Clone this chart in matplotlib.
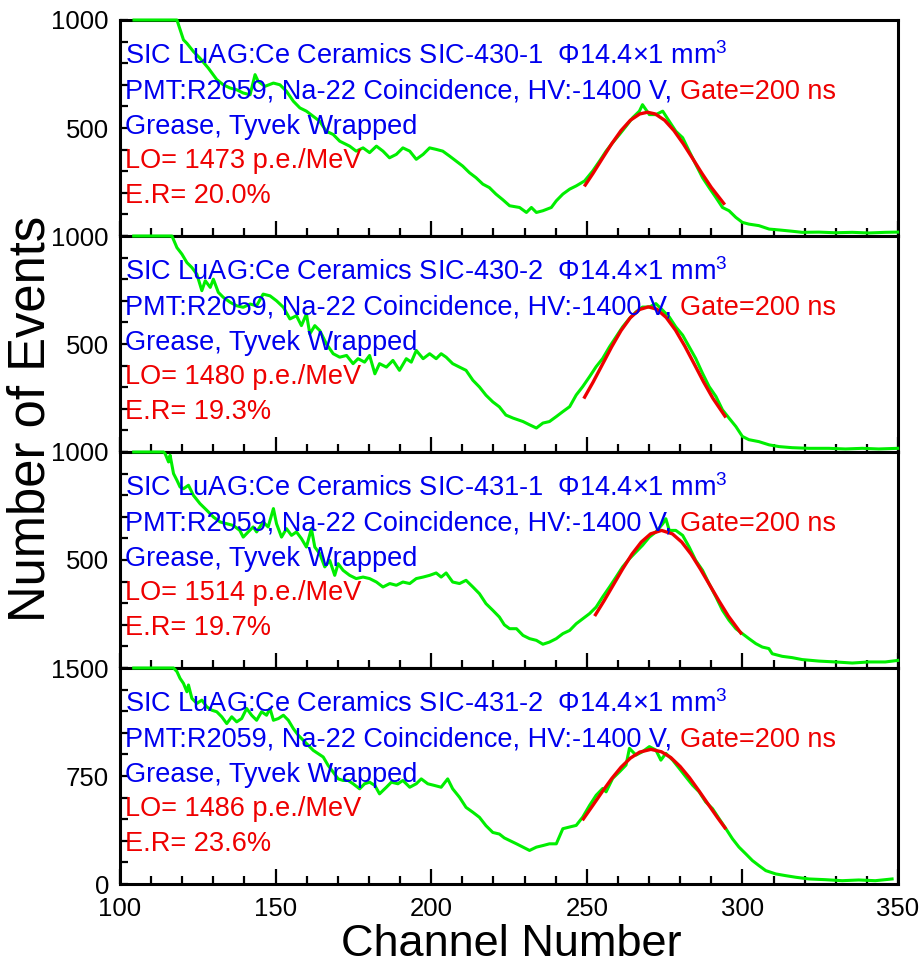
import matplotlib
matplotlib.use("Agg")
import matplotlib.pyplot as plt
from matplotlib.ticker import MultipleLocator, FixedLocator

plt.rcParams['font.family'] = ['Liberation Sans', 'DejaVu Sans']
plt.rcParams['mathtext.default'] = 'regular'

# sample names / results
samples = ["SIC-430-1", "SIC-430-2", "SIC-431-1", "SIC-431-2"]
light_output = [1473, 1480, 1514, 1486]
energy_res = ["20.0%", "19.3%", "19.7%", "23.6%"]
y_max = [1000, 1000, 1000, 1500]

# spectra (channel, events)
ch1 = [104.5, 118.3, 120.4, 121.5, 123.6, 125.7, 128.4, 131.1, 133.2, 135.4, 137.5, 139.6, 141.8, 143.4,
       144.4, 146.6, 149.3, 151.4, 153.5, 155.7, 157.8, 159.9, 162.0, 164.2, 166.3, 168.5, 170.6, 173.8,
       175.9, 178.1, 180.2, 182.4, 184.5, 186.6, 188.8, 190.9, 193.1, 195.2, 197.4, 199.5, 201.6, 203.7,
       205.9, 208.0, 210.1, 212.3, 214.4, 216.6, 218.7, 220.8, 223.0, 225.2, 228.4, 230.6, 232.2, 233.8,
       235.9, 238.6, 240.2, 242.3, 244.5, 246.6, 249.3, 251.9, 254.1, 256.2, 258.3, 260.5, 262.6, 264.7,
       266.9, 267.9, 270.1, 272.2, 274.4, 276.5, 278.6, 280.8, 282.9, 285.0, 287.2, 289.3, 291.5, 293.6,
       295.7, 297.9, 300.0, 302.1, 305.3, 308.6, 311.8, 316.0, 319.2, 324.6, 329.9, 335.3, 340.6, 345.9,
       349.9]
ev1 = [1000, 1000, 908, 892, 854, 823, 777, 724, 700, 685, 677, 662, 654, 747,
       716, 693, 708, 700, 670, 624, 593, 578, 555, 531, 485, 470, 439, 416,
       393, 408, 386, 416, 393, 362, 378, 408, 393, 355, 378, 408, 401, 393,
       370, 347, 324, 293, 270, 240, 224, 194, 168, 140, 132, 109, 132, 109,
       117, 132, 163, 194, 217, 232, 255, 301, 347, 393, 432, 470, 508, 547,
       578, 608, 562, 562, 578, 531, 485, 455, 393, 332, 270, 224, 178, 132,
       117, 86, 63, 55, 48, 32, 28, 22, 17, 18, 15, 17, 14, 17,
       18]

ch2 = [104.4, 116.7, 118.3, 119.9, 121.5, 123.1, 124.7, 126.3, 127.4, 129.0, 130.0, 131.6, 133.2, 135.4,
       137.5, 139.6, 141.8, 143.9, 146.0, 148.2, 150.3, 152.5, 154.6, 156.7, 158.3, 159.9, 161.0, 162.6,
       164.2, 166.3, 168.5, 170.6, 172.8, 174.9, 176.5, 178.6, 180.2, 181.9, 183.4, 185.6, 187.7, 189.8,
       192.0, 193.6, 195.2, 197.4, 199.5, 201.6, 203.2, 204.8, 206.9, 209.1, 211.2, 213.4, 215.5, 217.6,
       219.8, 221.9, 224.0, 226.3, 229.5, 231.6, 233.8, 235.9, 238.0, 240.2, 242.3, 244.5, 246.6, 248.7,
       250.9, 253.0, 255.1, 257.3, 259.4, 261.5, 263.7, 265.8, 267.9, 270.1, 272.2, 274.4, 276.5, 278.6,
       280.8, 282.9, 285.0, 287.2, 289.3, 291.5, 293.6, 295.7, 297.9, 300.0, 302.1, 305.3, 308.6, 311.8,
       316.0, 321.4, 327.8, 333.1, 338.5, 343.8, 349.9]
ev2 = [1000, 1000, 946, 916, 877, 854, 823, 747, 793, 762, 800, 739, 716, 693,
       677, 670, 685, 677, 731, 723, 700, 670, 616, 631, 585, 639, 547, 585,
       562, 501, 455, 439, 447, 409, 432, 416, 447, 362, 409, 393, 424, 378,
       432, 416, 470, 432, 455, 432, 455, 439, 409, 393, 378, 332, 301, 263,
       232, 209, 171, 157, 141, 126, 111, 134, 141, 164, 187, 210, 264, 303,
       349, 395, 433, 487, 533, 579, 618, 648, 671, 671, 687, 656, 625, 579,
       541, 487, 433, 364, 303, 257, 195, 157, 118, 72, 57, 48, 33, 25,
       20, 17, 17, 14, 17, 14, 17]

ch3 = [104.4, 114.0, 114.5, 115.6, 116.1, 117.2, 118.3, 119.3, 120.4, 122.0, 123.6, 125.7, 127.9, 130.0,
       132.2, 134.3, 136.4, 138.5, 139.6, 141.2, 142.8, 143.9, 146.0, 147.6, 149.3, 150.3, 151.9, 153.5,
       155.1, 156.7, 158.3, 159.9, 161.5, 162.6, 164.2, 165.8, 167.4, 169.0, 170.1, 171.7, 173.8, 175.9,
       178.1, 180.2, 182.4, 184.5, 186.7, 188.8, 190.9, 193.1, 195.2, 197.4, 199.5, 201.6, 203.2, 204.8,
       206.9, 209.1, 211.2, 213.4, 215.5, 217.6, 219.8, 221.9, 223.5, 225.2, 227.4, 229.5, 231.6, 233.8,
       235.9, 238.0, 240.2, 242.3, 244.5, 246.6, 248.7, 250.9, 253.0, 255.1, 257.3, 259.4, 261.5, 263.7,
       265.8, 267.9, 270.1, 272.2, 274.4, 275.4, 276.5, 278.6, 280.8, 282.9, 285.0, 287.2, 289.3, 291.5,
       293.6, 295.7, 297.9, 300.0, 302.1, 304.3, 306.4, 308.5, 309.6, 312.8, 316.0, 319.2, 324.6, 329.9,
       335.3, 340.6, 345.9, 349.9]
ev3 = [1000, 1000, 992, 954, 985, 900, 869, 838, 830, 846, 799, 761, 730, 699,
       676, 668, 660, 637, 606, 630, 653, 630, 676, 653, 738, 668, 606, 645,
       614, 630, 599, 560, 645, 560, 529, 468, 498, 429, 483, 452, 429, 414,
       421, 414, 398, 375, 391, 383, 398, 391, 414, 421, 429, 440, 421, 440,
       398, 391, 406, 375, 344, 298, 267, 236, 200, 182, 182, 151, 136, 128,
       110, 120, 136, 159, 174, 205, 228, 252, 282, 329, 375, 421, 468, 506,
       537, 568, 606, 630, 668, 691, 637, 637, 614, 560, 498, 452, 390, 329,
       267, 221, 182, 159, 136, 113, 97, 90, 66, 54, 48, 39, 32, 28,
       23, 28, 28, 35]

ch4 = [104.4, 117.2, 118.3, 119.3, 120.4, 121.5, 122.0, 123.1, 124.7, 126.3, 127.9, 129.5, 131.1, 132.7,
       134.3, 135.9, 137.5, 139.1, 140.7, 142.3, 143.9, 145.5, 147.1, 148.2, 149.3, 150.9, 152.5, 154.1,
       155.7, 157.3, 158.9, 160.5, 162.1, 163.7, 165.3, 166.9, 168.5, 170.1, 171.7, 173.3, 174.9, 177.0,
       178.6, 180.2, 181.9, 183.4, 185.6, 187.2, 189.3, 190.9, 193.1, 195.2, 196.8, 198.9, 201.1, 203.2,
       205.3, 206.9, 209.1, 211.2, 213.4, 215.5, 217.6, 219.8, 221.9, 223.5, 225.2, 227.4, 229.5, 231.6,
       233.8, 235.9, 238.0, 240.2, 242.3, 244.5, 246.6, 248.7, 250.9, 253.0, 255.1, 256.2, 258.3, 260.5,
       262.6, 263.7, 265.8, 267.9, 270.1, 272.2, 273.8, 275.4, 277.6, 279.7, 281.8, 284.0, 286.1, 288.2,
       290.4, 292.5, 294.7, 296.8, 298.9, 301.1, 303.2, 305.3, 307.5, 310.7, 313.9, 317.1, 321.4, 326.7,
       332.1, 337.4, 342.7, 348.1]
ev4 = [1500, 1500, 1475, 1428, 1393, 1335, 1382, 1289, 1254, 1277, 1230, 1207, 1196, 1161,
       1114, 1161, 1126, 1149, 1219, 1172, 1137, 1196, 1172, 1219, 1137, 1149, 1172, 1137,
       1079, 1033, 998, 963, 928, 905, 882, 823, 777, 730, 719, 719, 696, 661,
       696, 707, 684, 626, 672, 707, 696, 719, 672, 696, 730, 696, 684, 672,
       730, 661, 602, 532, 498, 463, 405, 358, 347, 320, 302, 279, 256, 233,
       256, 267, 279, 279, 384, 396, 407, 465, 546, 616, 663, 640, 733, 779,
       826, 942, 895, 919, 954, 930, 860, 907, 860, 803, 745, 686, 640, 570,
       523, 454, 384, 314, 256, 209, 163, 128, 93, 70, 58, 47, 35, 30,
       23, 28, 23, 35]

# gaussian fit curves
fit_ch1 = [249.5, 252, 255, 258, 261, 264, 267, 269.5, 272, 275, 278, 281, 284, 287, 290, 294]
fit_ev1 = [236, 290, 359, 427, 488, 536, 565, 573, 565, 536, 488, 427, 359, 290, 225, 151]
fit_ch2 = [249.3, 252, 255, 258, 261, 264, 267, 269.8, 272.5, 275.5, 278.5, 281.5, 284.5, 287.5, 290.5, 294.4]
fit_ev2 = [254, 323, 405, 487, 562, 622, 660, 672, 661, 623, 564, 490, 408, 325, 249, 166]
fit_ch3 = [252.8, 255.5, 258.5, 261.5, 264.5, 267.5, 270.5, 274, 277.5, 280.5, 283.5, 286.5, 289.5, 292.5, 295.5, 299.5]
fit_ev3 = [247, 310, 384, 458, 527, 583, 621, 637, 621, 583, 527, 458, 384, 310, 240, 162]
fit_ch4 = [248.9, 252, 255, 258, 261, 264, 267, 270.6, 274, 277, 280, 283, 286, 289, 292, 294.4]
fit_ev4 = [452, 548, 642, 732, 811, 874, 916, 935, 918, 878, 816, 738, 648, 554, 461, 390]

spectra = [(ch1, ev1), (ch2, ev2), (ch3, ev3), (ch4, ev4)]
fits = [(fit_ch1, fit_ev1), (fit_ch2, fit_ev2), (fit_ch3, fit_ev3), (fit_ch4, fit_ev4)]

BLUE = "#0000EE"
RED = "#EE0000"
GREEN = "#00EE00"

fig = plt.figure(figsize=(9.19, 9.75), dpi=100)
left, right = 120 / 919, 898 / 919
panel_h = 216 / 975
bottom0 = 1 - 884 / 975

for i in range(4):
    bottom = bottom0 + (3 - i) * panel_h
    ax = fig.add_axes([left, bottom, right - left, panel_h])
    ch, ev = spectra[i]
    fch, fev = fits[i]
    # green drawn over the frame, like the original (flat clipped top is visible)
    ax.plot(ch, ev, color=GREEN, lw=2.2, zorder=3, clip_on=False)
    ax.plot(fch, fev, color=RED, lw=2.4, zorder=4)

    ymax = y_max[i]
    ax.set_xlim(100, 350)
    ax.set_ylim(0, ymax)

    for s in ax.spines.values():
        s.set_linewidth(2.2)

    ax.xaxis.set_major_locator(MultipleLocator(50))
    ax.xaxis.set_minor_locator(MultipleLocator(10))
    ax.yaxis.set_major_locator(FixedLocator([0, ymax / 2, ymax]))
    ax.yaxis.set_minor_locator(MultipleLocator(ymax / 10))
    ax.tick_params(axis='both', which='both', direction='in', top=False, right=False,
                   labelsize=18.5)
    ax.tick_params(axis='x', which='major', length=11, width=1.6, pad=9)
    ax.tick_params(axis='x', which='minor', length=6, width=1.6)
    ax.tick_params(axis='y', which='major', length=6, width=1.6, pad=8)
    ax.tick_params(axis='y', which='minor', length=6, width=1.6)

    if ymax == 1500:
        ax.set_yticklabels(["0", "750", "1500"])
    else:
        ax.set_yticklabels(["", "500", "1000"])
    if i < 3:
        ax.tick_params(axis='x', labelbottom=False)

    # annotation text
    fs = 19.5
    x0 = 0.007
    ax.text(x0, 0.795, samples[i].join(["SIC LuAG:Ce Ceramics ", "  \u03a614.4\u00d71 mm$^3$"]),
            transform=ax.transAxes, color=BLUE, fontsize=fs, va='baseline', ha='left', zorder=5)
    t = ax.text(x0, 0.635, "PMT:R2059, Na-22 Coincidence, HV:-1400 V, ",
                transform=ax.transAxes, color=BLUE, fontsize=fs, va='baseline', ha='left', zorder=5)
    ax.annotate("Gate=200 ns", xy=(1, 0), xycoords=t, color=RED, fontsize=fs,
                va='bottom', ha='left', zorder=5)
    ax.text(x0, 0.474, "Grease, Tyvek Wrapped", transform=ax.transAxes, color=BLUE,
            fontsize=fs, va='baseline', ha='left', zorder=5)
    ax.text(x0, 0.315, "LO= %d p.e./MeV" % light_output[i], transform=ax.transAxes,
            color=RED, fontsize=fs, va='baseline', ha='left', zorder=5)
    ax.text(x0, 0.152, "E.R= " + energy_res[i], transform=ax.transAxes,
            color=RED, fontsize=fs, va='baseline', ha='left', zorder=5)

fig.text(0.5565, 1 - 945 / 975, "Channel Number", fontsize=32.5, ha='center', va='center')
fig.text(31 / 919, 1 - 419 / 975, "Number of Events", fontsize=36.5, ha='center', va='center',
         rotation=90)

fig.savefig("out.png", dpi=100, facecolor='white')
